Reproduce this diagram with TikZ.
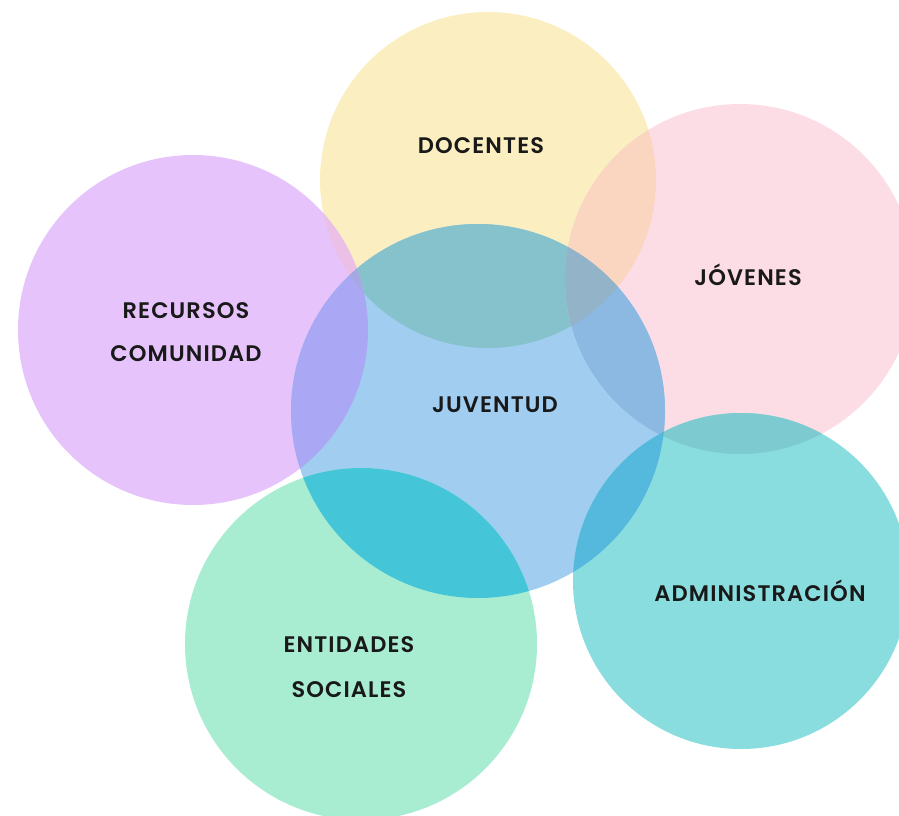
\documentclass[tikz,border=0pt]{standalone}
\usepackage{fontspec}
\setmainfont{Poppins SemiBold}[LetterSpace=5]
\definecolor{cY}{RGB}{251,238,192}
\definecolor{cP}{RGB}{252,221,230}
\definecolor{cU}{RGB}{230,195,250}
\definecolor{cB}{RGB}{160,205,240}
\definecolor{cG}{RGB}{168,236,210}
\definecolor{cT}{RGB}{137,221,223}
\definecolor{cYB}{RGB}{134,194,204}
\definecolor{cYP}{RGB}{250,213,192}
\definecolor{cPB}{RGB}{140,185,226}
\definecolor{cUB}{RGB}{170,168,244}
\definecolor{cGB}{RGB}{68,198,216}
\definecolor{cTB}{RGB}{85,185,221}
\definecolor{cTP}{RGB}{125,203,208}
\definecolor{cUY}{RGB}{234,192,230}
\definecolor{cYPB}{RGB}{147,179,201}
\definecolor{cUYB}{RGB}{166,168,226}
\definecolor{cTPB}{RGB}{82,182,218}
\tikzset{
  lbl/.style={font=\fontsize{22.5}{22.5}\selectfont, text=black!90, inner sep=0pt, text height=15.5pt, text depth=0pt, anchor=center}
}
\begin{document}
\begin{tikzpicture}[x=1pt,y=-1pt]
\useasboundingbox (0,0) rectangle (899,816);
\coordinate (Y) at (488,180);
\coordinate (P) at (740,279);
\coordinate (U) at (193,330);
\coordinate (B) at (478,411);
\coordinate (G) at (361,644);
\coordinate (T) at (741,581);
\def\rY{168}\def\rP{175}\def\rU{175}\def\rB{187}\def\rG{176}\def\rT{168}
% base circles
\fill[cY] (Y) circle[radius=\rY];
\fill[cP] (P) circle[radius=\rP];
\fill[cU] (U) circle[radius=\rU];
\fill[cB] (B) circle[radius=\rB];
\fill[cG] (G) circle[radius=\rG];
\fill[cT] (T) circle[radius=\rT];
% pairwise overlaps
\begin{scope}\clip (Y) circle[radius=\rY]; \fill[cYB] (B) circle[radius=\rB];\end{scope}
\begin{scope}\clip (Y) circle[radius=\rY]; \fill[cYP] (P) circle[radius=\rP];\end{scope}
\begin{scope}\clip (Y) circle[radius=\rY]; \fill[cUY] (U) circle[radius=\rU];\end{scope}
\begin{scope}\clip (P) circle[radius=\rP]; \fill[cPB] (B) circle[radius=\rB];\end{scope}
\begin{scope}\clip (U) circle[radius=\rU]; \fill[cUB] (B) circle[radius=\rB];\end{scope}
\begin{scope}\clip (G) circle[radius=\rG]; \fill[cGB] (B) circle[radius=\rB];\end{scope}
\begin{scope}\clip (T) circle[radius=\rT]; \fill[cTB] (B) circle[radius=\rB];\end{scope}
\begin{scope}\clip (T) circle[radius=\rT]; \fill[cTP] (P) circle[radius=\rP];\end{scope}
% triple overlaps
\begin{scope}\clip (Y) circle[radius=\rY]; \clip (P) circle[radius=\rP]; \fill[cYPB] (B) circle[radius=\rB];\end{scope}
\begin{scope}\clip (Y) circle[radius=\rY]; \clip (U) circle[radius=\rU]; \fill[cUYB] (B) circle[radius=\rB];\end{scope}
\begin{scope}\clip (T) circle[radius=\rT]; \clip (P) circle[radius=\rP]; \fill[cTPB] (B) circle[radius=\rB];\end{scope}
% labels
\node[lbl] (docentes) at (481,146) {DOCENTES};
\node[lbl] (jovenes) at (748,278) {JÓVENES};
\node[lbl] (recursos) at (186,311) {RECURSOS};
\node[lbl] (comunidad) at (186,354) {COMUNIDAD};
\node[lbl] (juventud) at (495,405) {JUVENTUD};
\node[lbl] (admin) at (760,594) {ADMINISTRACIÓN};
\node[lbl] (entidades) at (349,645) {ENTIDADES};
\node[lbl] (sociales) at (349,690) {SOCIALES};
\end{tikzpicture}
\end{document}
